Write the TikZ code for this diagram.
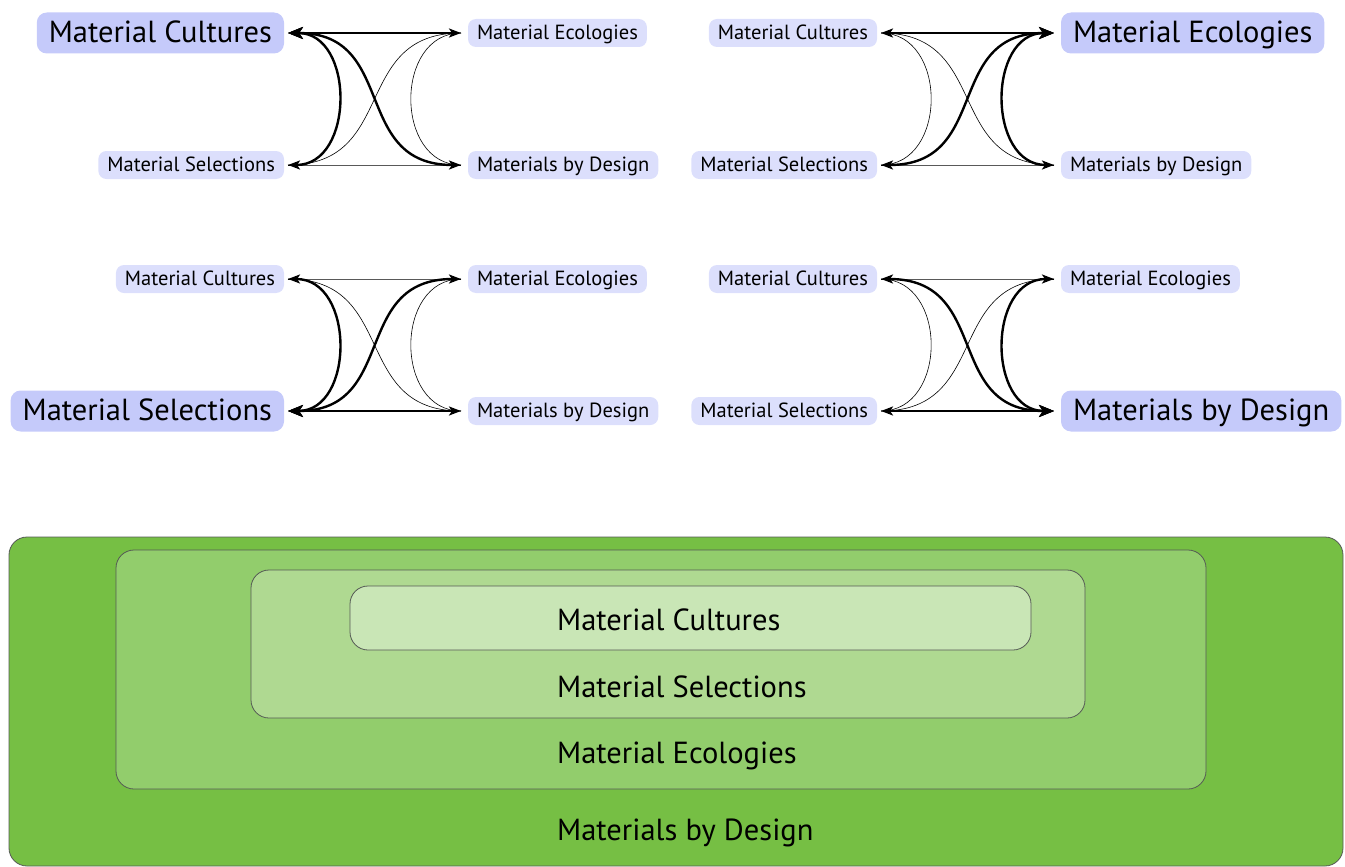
\documentclass[tikz,border=0pt]{standalone}
\usepackage{fontspec}
\setmainfont{PT Sans}
\usetikzlibrary{arrows.meta,positioning}

\definecolor{lilac}{RGB}{220,223,252}
\definecolor{lilacdark}{RGB}{197,202,250}
\definecolor{moss}{RGB}{118,191,68}
\definecolor{leaf}{RGB}{146,205,108}
\definecolor{sprout}{RGB}{175,217,145}
\definecolor{mint}{RGB}{201,230,182}
\definecolor{rim}{RGB}{85,90,85}

\newcommand{\smallfont}{\fontsize{20.5}{24}\selectfont}
\newcommand{\bigfont}{\fontsize{30.5}{36}\selectfont}

\begin{document}
\begin{tikzpicture}[x=1pt, y=-1pt,
 box/.style={fill=lilac, rounded corners=8pt, font=\smallfont, inner xsep=9pt, inner ysep=5.5pt, text height=15pt, text depth=2pt},
 bigbox/.style={fill=lilacdark, rounded corners=10pt, font=\bigfont, inner xsep=12pt, inner ysep=8pt, text height=22pt, text depth=3pt},
 pick/.code={\if#1\hi\pgfkeysalso{bigbox}\else\pgfkeysalso{box}\fi},
 lside/.style={outer xsep=4pt, outer ysep=0pt},
 rside/.style={outer xsep=7pt, outer ysep=0pt},
 wire/.style={line width=0.6pt, looseness=1.3},
 hotout/.style={line width=2.4pt, {Stealth[length=15pt,width=12pt,inset=4pt]}-{Stealth[length=12pt,width=9pt,inset=3pt]}},
 hotin/.style={line width=2.4pt, {Stealth[length=12pt,width=9pt,inset=3pt]}-{Stealth[length=15pt,width=12pt,inset=4pt]}},
 ln/.code 2 args={\pgfkeysalso{wire}\if#1\hi\pgfkeysalso{hotout}\fi\if#2\hi\pgfkeysalso{hotin}\fi},
 ring/.style={draw=rim, line width=0.8pt, rounded corners=18pt},
 tier/.style={anchor=base west, font=\bigfont, inner sep=0pt}]
\useasboundingbox (0,0) rectangle (1345,867);

% four views, one term highlighted in each
\foreach \q/\x/\y/\hi in {tl/288/33/C, tr/881/33/E, bl/288/279/S, br/881/279/D}{
  \node[pick=C, lside, anchor=east] (\q-C) at (\x,\y) {Material Cultures};
  \node[pick=E, rside, right=173pt of \q-C] (\q-E) {Material Ecologies};
  \node[pick=S, lside, below=132pt of \q-C.east, anchor=east] (\q-S) {Material Selections};
  \node[pick=D, rside, below=132pt of \q-E.west, anchor=west] (\q-D) {Materials by Design};
  \draw[ln={C}{E}] (\q-C) to[out=0,in=180] (\q-E);
  \draw[ln={C}{S}] (\q-C) to[out=0,in=0] (\q-S);
  \draw[ln={C}{D}] (\q-C) to[out=0,in=180] (\q-D);
  \draw[ln={S}{E}] (\q-S) to[out=0,in=180] (\q-E);
  \draw[ln={S}{D}] (\q-S) to[out=0,in=180] (\q-D);
  \draw[ln={E}{D}] (\q-E) to[out=180,in=180] (\q-D);
}

% nested layers
\draw[ring, fill=moss] (9,537) rectangle (1343,866);
\draw[ring, fill=leaf] (116,550) rectangle (1206,789);
\draw[ring, fill=sprout] (251,570) rectangle (1085,718);
\draw[ring, fill=mint] (350,586) rectangle (1031,650);
\node[tier] (cultures) at (557,630) {Material Cultures};
\node[tier] (selections) at (557,697) {Material Selections};
\node[tier] (ecologies) at (557,763) {Material Ecologies};
\node[tier] (design) at (557,840) {Materials by Design};
\end{tikzpicture}
\end{document}
